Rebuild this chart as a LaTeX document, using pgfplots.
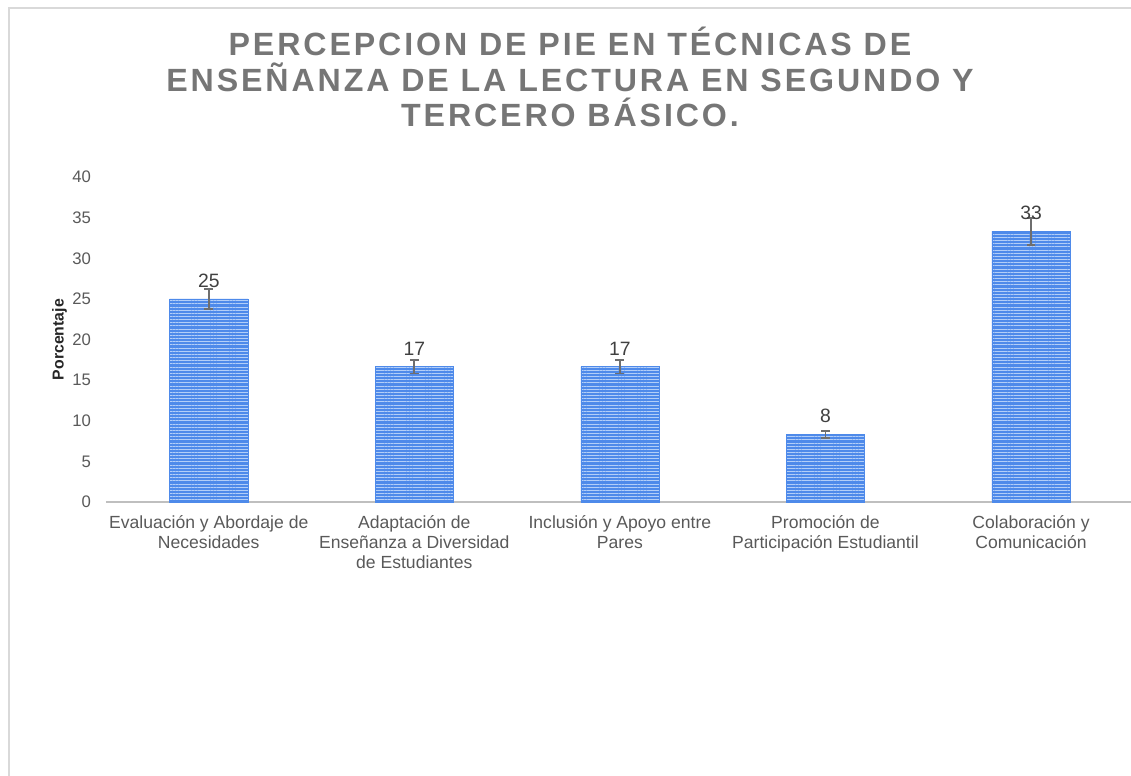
\documentclass[border=0pt]{standalone}
\usepackage{pgfplots}
\pgfplotsset{compat=1.18}
\usepackage{fontspec}
\setmainfont{Liberation Sans}
\newfontfamily\titlefont[LetterSpace=9]{Liberation Sans}
\usetikzlibrary{patterns.meta}
\definecolor{barblue}{RGB}{78,138,234}
\definecolor{stripe}{RGB}{178,206,248}
\definecolor{txtgray}{RGB}{89,89,89}
\definecolor{titlegray}{RGB}{118,118,118}
\definecolor{axgray}{RGB}{191,191,191}
\definecolor{errgray}{RGB}{110,110,110}
\begin{document}
\begin{tikzpicture}[x=0.02cm,y=0.02cm]
\path[use as bounding box] (0,0) rectangle (1131,775);
\draw[gray!30, line width=0.8pt] (9,-5) -- (9,767) -- (1140,767);
\node[align=center, text=titlegray, font=\titlefont\fontsize{18.3}{20}\selectfont\bfseries] at (570,698)
 {PERCEPCION DE PIE EN TÉCNICAS DE\\ENSEÑANZA DE LA LECTURA EN SEGUNDO Y\\TERCERO BÁSICO.};
\begin{axis}[
  at={(2.12cm,5.46cm)}, anchor=south west,
  scale only axis,
  width=20.56cm, height=6.5cm,
  xmin=-0.5, xmax=4.5, ymin=0, ymax=40,
  ytick={0,5,...,40},
  xtick=data,
  xticklabels={{Evaluación y Abordaje de\\Necesidades},{Adaptación de\\Enseñanza a Diversidad\\de Estudiantes},{Inclusión y Apoyo entre\\Pares},{Promoción de\\Participación Estudiantil},{Colaboración y\\Comunicación}},
  xticklabel style={align=center, font=\fontsize{10}{11.4}\selectfont, text=txtgray, yshift=-4pt},
  yticklabel style={font=\fontsize{9.5}{11}\selectfont, text=txtgray, xshift=-5pt},
  /pgf/number format/assume math mode=true,
  axis x line*=bottom,
  axis y line*=left,
  x axis line style={axgray, line width=0.9pt, -},
  y axis line style={draw=none},
  major tick length=0pt,
  ylabel={Porcentaje},
  ylabel style={font=\fontsize{9}{11}\selectfont\bfseries, text=black!85, at={(axis description cs:-0.032,0.5)}},
  nodes near coords,
  nodes near coords style={font=\fontsize{11}{13}\selectfont, text=black!75, /pgf/number format/fixed, /pgf/number format/precision=0, anchor=south, yshift=3pt},
  clip=false,
]
\addplot[ybar, bar width=0.38, draw=barblue, line width=0.3pt, fill=barblue,
  postaction={pattern={Lines[angle=0,distance=1.8pt,line width=0.5pt]}, pattern color=stripe},
  error bars/.cd, y dir=both, y explicit,
  error bar style={errgray, line width=1pt},
  error mark options={errgray, line width=1pt, mark size=2.5pt, rotate=90}]
coordinates {
(0,25) +- (0,1.25)
(1,16.67) +- (0,0.83)
(2,16.67) +- (0,0.83)
(3,8.33) +- (0,0.42)
(4,33.33) +- (0,1.67)
};
\end{axis}
\end{tikzpicture}
\end{document}
